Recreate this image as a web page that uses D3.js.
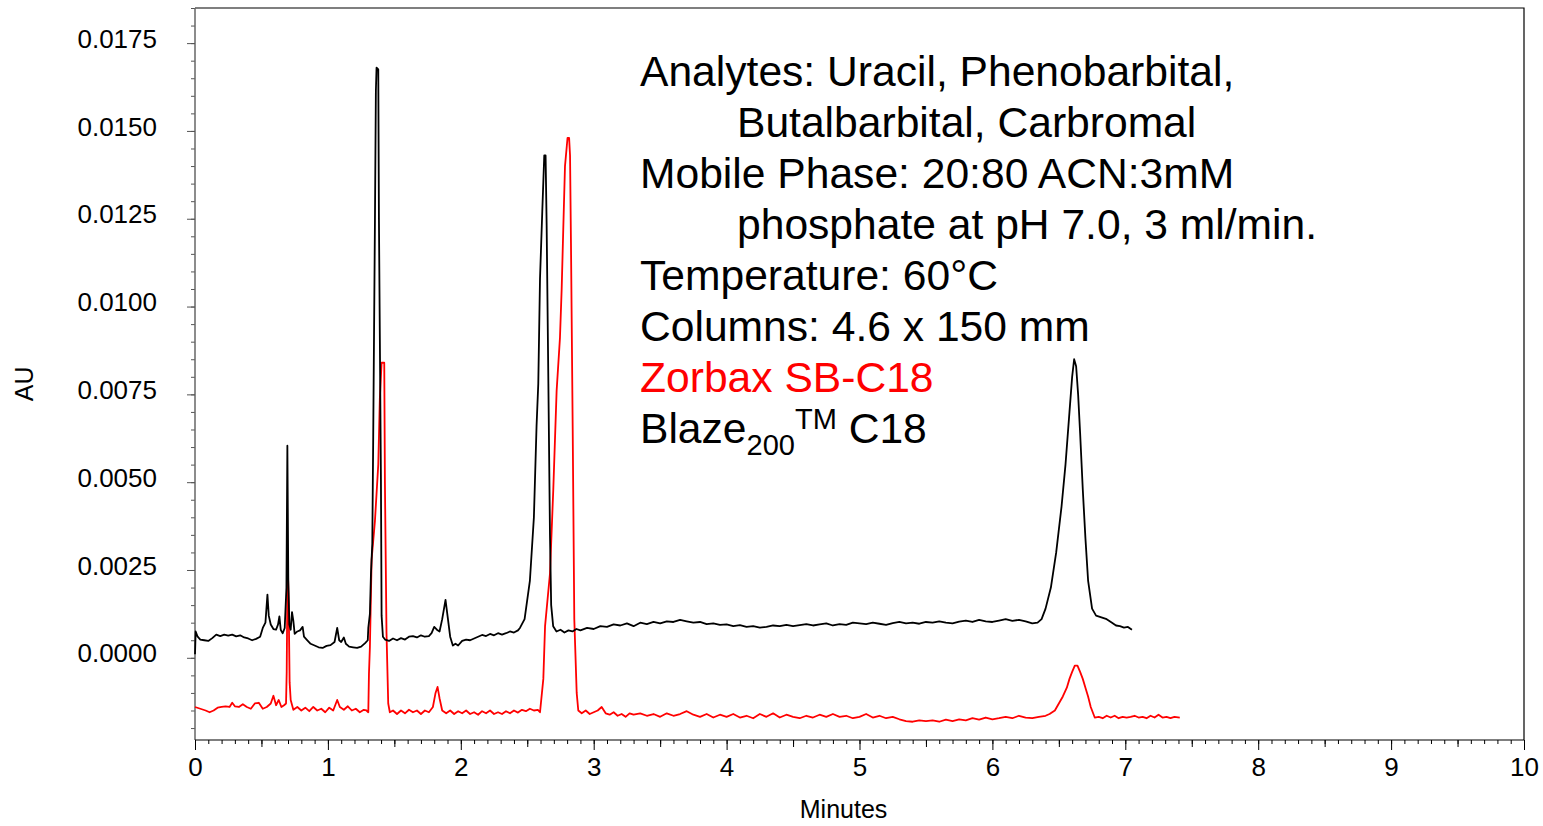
<!DOCTYPE html>
<html>
<head>
<meta charset="utf-8">
<script src="https://cdn.jsdelivr.net/npm/d3@7"></script>
<style>
  body { margin: 0; background: #fff; }
  svg { display: block; font-family: "Liberation Sans", Arial, sans-serif; }
</style>
</head>
<body>
<svg id="chart" width="1543" height="826"></svg>
<script>
// Blaze200 C18 trace (black): [minutes, AU]
const blaze = [
  [0.000, 0.00010], [0.005, 0.00075], [0.02, 0.00060], [0.04, 0.00052], [0.07, 0.00050],
  [0.10, 0.00048], [0.13, 0.00056], [0.16, 0.00066], [0.19, 0.00062], [0.22, 0.00066],
  [0.25, 0.00063], [0.28, 0.00066], [0.31, 0.00061], [0.34, 0.00064], [0.37, 0.00058],
  [0.40, 0.00055], [0.43, 0.00050], [0.46, 0.00054], [0.49, 0.00060], [0.51, 0.00085],
  [0.53, 0.00100], [0.545, 0.00180], [0.555, 0.00120], [0.57, 0.00095], [0.59, 0.00082],
  [0.61, 0.00080], [0.625, 0.00095], [0.635, 0.00118], [0.645, 0.00080], [0.66, 0.00070],
  [0.675, 0.00085], [0.688, 0.00200], [0.695, 0.00604], [0.702, 0.00220], [0.71, 0.00095],
  [0.72, 0.00080], [0.73, 0.00130], [0.74, 0.00105], [0.75, 0.00068], [0.77, 0.00075],
  [0.79, 0.00078], [0.81, 0.00088], [0.82, 0.00060], [0.84, 0.00052], [0.87, 0.00040],
  [0.90, 0.00035], [0.93, 0.00030], [0.96, 0.00028], [0.99, 0.00034], [1.02, 0.00036],
  [1.05, 0.00045], [1.07, 0.00085], [1.085, 0.00050], [1.10, 0.00045], [1.12, 0.00058],
  [1.135, 0.00040], [1.16, 0.00032], [1.19, 0.00030], [1.22, 0.00028], [1.25, 0.00032],
  [1.28, 0.00042], [1.30, 0.00050], [1.304, 0.00085], [1.316, 0.00125], [1.324, 0.00240],
  [1.334, 0.00325], [1.341, 0.00630], [1.354, 0.01245], [1.361, 0.01614], [1.366, 0.01680],
  [1.379, 0.01675], [1.384, 0.01250], [1.399, 0.00510], [1.404, 0.00120], [1.414, 0.00060],
  [1.43, 0.00052], [1.46, 0.00048], [1.49, 0.00055], [1.52, 0.00050], [1.55, 0.00056],
  [1.58, 0.00052], [1.61, 0.00060], [1.64, 0.00062], [1.67, 0.00058], [1.70, 0.00064],
  [1.73, 0.00060], [1.76, 0.00062], [1.78, 0.00070], [1.80, 0.00088], [1.82, 0.00080],
  [1.84, 0.00075], [1.86, 0.00110], [1.885, 0.00165], [1.90, 0.00120], [1.92, 0.00060],
  [1.94, 0.00035], [1.96, 0.00040], [1.98, 0.00035], [2.01, 0.00048], [2.04, 0.00052],
  [2.07, 0.00050], [2.10, 0.00055], [2.13, 0.00060], [2.16, 0.00065], [2.19, 0.00062],
  [2.22, 0.00068], [2.25, 0.00064], [2.28, 0.00070], [2.31, 0.00066], [2.34, 0.00070],
  [2.37, 0.00075], [2.40, 0.00072], [2.43, 0.00078], [2.445, 0.00085], [2.48, 0.00110],
  [2.52, 0.00220], [2.55, 0.00400], [2.57, 0.00660], [2.583, 0.00780], [2.596, 0.01080],
  [2.613, 0.01270], [2.628, 0.01430], [2.638, 0.01430], [2.646, 0.01230], [2.659, 0.00780],
  [2.671, 0.00350], [2.68, 0.00150], [2.695, 0.00090], [2.72, 0.00075], [2.75, 0.00080],
  [2.78, 0.00072], [2.81, 0.00078], [2.84, 0.00075], [2.87, 0.00082], [2.90, 0.00078],
  [2.95, 0.00085], [3.00, 0.00082], [3.05, 0.00090], [3.10, 0.00088], [3.15, 0.00095],
  [3.20, 0.00092], [3.25, 0.00098], [3.30, 0.00090], [3.35, 0.00100], [3.40, 0.00096],
  [3.45, 0.00102], [3.50, 0.00098], [3.55, 0.00104], [3.60, 0.00102], [3.65, 0.00108],
  [3.70, 0.00104], [3.75, 0.00100], [3.80, 0.00102], [3.85, 0.00096], [3.90, 0.00098],
  [3.95, 0.00094], [4.00, 0.00095], [4.05, 0.00090], [4.10, 0.00093], [4.15, 0.00088],
  [4.20, 0.00090], [4.25, 0.00086], [4.30, 0.00088], [4.35, 0.00092], [4.40, 0.00090],
  [4.45, 0.00094], [4.50, 0.00090], [4.55, 0.00093], [4.60, 0.00096], [4.65, 0.00092],
  [4.70, 0.00095], [4.75, 0.00098], [4.80, 0.00092], [4.85, 0.00096], [4.90, 0.00094],
  [4.95, 0.00100], [5.00, 0.00098], [5.05, 0.00096], [5.10, 0.00100], [5.15, 0.00097],
  [5.20, 0.00094], [5.25, 0.00099], [5.30, 0.00102], [5.35, 0.00098], [5.40, 0.00100],
  [5.45, 0.00097], [5.50, 0.00102], [5.55, 0.00100], [5.60, 0.00104], [5.65, 0.00100],
  [5.70, 0.00098], [5.75, 0.00103], [5.80, 0.00106], [5.85, 0.00102], [5.90, 0.00108],
  [5.95, 0.00104], [6.00, 0.00102], [6.05, 0.00106], [6.10, 0.00110], [6.15, 0.00105],
  [6.20, 0.00108], [6.25, 0.00104], [6.30, 0.00098], [6.34, 0.00100], [6.37, 0.00110],
  [6.40, 0.00140], [6.44, 0.00200], [6.48, 0.00300], [6.52, 0.00430], [6.55, 0.00550],
  [6.58, 0.00700], [6.60, 0.00800], [6.615, 0.00850], [6.63, 0.00830], [6.645, 0.00750],
  [6.66, 0.00640], [6.68, 0.00480], [6.70, 0.00340], [6.72, 0.00220], [6.75, 0.00140],
  [6.78, 0.00120], [6.82, 0.00115], [6.86, 0.00110], [6.90, 0.00100], [6.93, 0.00092],
  [6.96, 0.00090], [6.99, 0.00086], [7.02, 0.00088], [7.05, 0.00080]
];

// Zorbax SB-C18 trace (red): [minutes, AU]
const zorbax = [
  [0.00, -0.00140], [0.04, -0.00145], [0.08, -0.00150], [0.11, -0.00155], [0.14, -0.00150],
  [0.17, -0.00142], [0.20, -0.00140], [0.23, -0.00138], [0.26, -0.00140], [0.28, -0.00128],
  [0.30, -0.00138], [0.33, -0.00140], [0.36, -0.00132], [0.39, -0.00140], [0.42, -0.00145],
  [0.45, -0.00130], [0.48, -0.00128], [0.51, -0.00145], [0.54, -0.00140], [0.57, -0.00130],
  [0.59, -0.00108], [0.61, -0.00135], [0.63, -0.00120], [0.65, -0.00140], [0.67, -0.00135],
  [0.685, -0.00130], [0.690, -0.00040], [0.697, 0.00290], [0.705, 0.00150], [0.712, -0.00070],
  [0.72, -0.00120], [0.74, -0.00148], [0.77, -0.00140], [0.80, -0.00150], [0.83, -0.00142],
  [0.86, -0.00152], [0.89, -0.00140], [0.92, -0.00150], [0.95, -0.00145], [0.98, -0.00155],
  [1.01, -0.00142], [1.04, -0.00150], [1.07, -0.00120], [1.09, -0.00140], [1.12, -0.00148],
  [1.15, -0.00138], [1.18, -0.00150], [1.21, -0.00145], [1.24, -0.00155], [1.27, -0.00148],
  [1.29, -0.00150], [1.304, -0.00155], [1.309, -0.00045], [1.316, 0.00030], [1.329, 0.00280],
  [1.354, 0.00390], [1.379, 0.00550], [1.391, 0.00740], [1.404, 0.00840], [1.424, 0.00840],
  [1.429, 0.00500], [1.441, 0.00070], [1.454, -0.00130], [1.466, -0.00155], [1.49, -0.00150],
  [1.52, -0.00160], [1.55, -0.00150], [1.58, -0.00158], [1.61, -0.00148], [1.64, -0.00155],
  [1.67, -0.00150], [1.70, -0.00160], [1.73, -0.00150], [1.76, -0.00155], [1.79, -0.00140],
  [1.81, -0.00100], [1.825, -0.00083], [1.84, -0.00115], [1.86, -0.00150], [1.89, -0.00158],
  [1.92, -0.00150], [1.95, -0.00160], [1.98, -0.00152], [2.01, -0.00158], [2.04, -0.00150],
  [2.07, -0.00160], [2.10, -0.00155], [2.13, -0.00162], [2.16, -0.00152], [2.19, -0.00158],
  [2.22, -0.00150], [2.25, -0.00160], [2.28, -0.00155], [2.31, -0.00160], [2.34, -0.00152],
  [2.37, -0.00158], [2.40, -0.00150], [2.43, -0.00156], [2.46, -0.00148], [2.49, -0.00152],
  [2.52, -0.00145], [2.55, -0.00150], [2.58, -0.00148], [2.596, -0.00155], [2.621, -0.00060],
  [2.634, 0.00090], [2.671, 0.00240], [2.696, 0.00480], [2.721, 0.00760], [2.746, 0.00910],
  [2.759, 0.01050], [2.771, 0.01220], [2.784, 0.01400], [2.803, 0.01480], [2.815, 0.01480],
  [2.822, 0.01430], [2.829, 0.01180], [2.842, 0.00650], [2.854, 0.00110], [2.872, -0.00100],
  [2.884, -0.00150], [2.91, -0.00158], [2.94, -0.00150], [2.97, -0.00160], [3.00, -0.00155],
  [3.03, -0.00150], [3.06, -0.00140], [3.09, -0.00158], [3.12, -0.00162], [3.15, -0.00155],
  [3.18, -0.00165], [3.21, -0.00160], [3.24, -0.00168], [3.27, -0.00158], [3.30, -0.00162],
  [3.35, -0.00158], [3.40, -0.00165], [3.45, -0.00160], [3.50, -0.00168], [3.55, -0.00158],
  [3.60, -0.00165], [3.65, -0.00160], [3.70, -0.00152], [3.75, -0.00162], [3.80, -0.00168],
  [3.85, -0.00160], [3.90, -0.00170], [3.95, -0.00162], [4.00, -0.00168], [4.05, -0.00160],
  [4.10, -0.00170], [4.15, -0.00165], [4.20, -0.00172], [4.25, -0.00160], [4.30, -0.00168],
  [4.35, -0.00158], [4.40, -0.00170], [4.45, -0.00162], [4.50, -0.00168], [4.55, -0.00172],
  [4.60, -0.00165], [4.65, -0.00170], [4.70, -0.00162], [4.75, -0.00168], [4.80, -0.00160],
  [4.85, -0.00168], [4.90, -0.00165], [4.95, -0.00172], [5.00, -0.00168], [5.05, -0.00160],
  [5.10, -0.00170], [5.15, -0.00165], [5.20, -0.00172], [5.25, -0.00168], [5.30, -0.00175],
  [5.35, -0.00180], [5.40, -0.00182], [5.45, -0.00178], [5.50, -0.00180], [5.55, -0.00178],
  [5.60, -0.00182], [5.65, -0.00176], [5.70, -0.00180], [5.75, -0.00175], [5.80, -0.00178],
  [5.85, -0.00172], [5.90, -0.00176], [5.95, -0.00170], [6.00, -0.00175], [6.05, -0.00172],
  [6.10, -0.00168], [6.15, -0.00172], [6.20, -0.00165], [6.25, -0.00170], [6.30, -0.00172],
  [6.35, -0.00168], [6.40, -0.00165], [6.43, -0.00160], [6.47, -0.00150], [6.50, -0.00130],
  [6.53, -0.00110], [6.56, -0.00085], [6.58, -0.00060], [6.60, -0.00040], [6.62, -0.00022],
  [6.64, -0.00022], [6.66, -0.00040], [6.68, -0.00060], [6.70, -0.00085], [6.72, -0.00110],
  [6.74, -0.00140], [6.77, -0.00170], [6.80, -0.00168], [6.83, -0.00172], [6.86, -0.00165],
  [6.89, -0.00170], [6.92, -0.00165], [6.95, -0.00172], [6.98, -0.00168], [7.01, -0.00170],
  [7.04, -0.00168], [7.07, -0.00165], [7.10, -0.00170], [7.13, -0.00168], [7.16, -0.00172],
  [7.19, -0.00165], [7.22, -0.00170], [7.25, -0.00162], [7.28, -0.00170], [7.31, -0.00168],
  [7.34, -0.00172], [7.37, -0.00168], [7.41, -0.00170]
];

const yMajorTicks = [0, 0.0025, 0.005, 0.0075, 0.01, 0.0125, 0.015, 0.0175];
const xMajorTicks = [0, 1, 2, 3, 4, 5, 6, 7, 8, 9, 10];
const noteLines = [
  "Analytes: Uracil, Phenobarbital,",
  "Butalbarbital, Carbromal",
  "Mobile Phase: 20:80 ACN:3mM",
  "phosphate at pH 7.0, 3 ml/min.",
  "Temperature: 60\u00B0C",
  "Columns: 4.6 x 150 mm"
];
const zorbaxLabel = "Zorbax SB-C18";
const blazeLabel = ["Blaze", "200", "TM", " C18"];

const svg = d3.select("#chart");
const plotLeft = 195, plotRight = 1524, plotTop = 8, plotBottom = 740;

const x = d3.scaleLinear().domain([0, 10]).range([plotLeft, plotRight]);
const y = d3.scaleLinear().domain([-0.00234, 0.0185]).range([plotBottom, plotTop]);

// frame (top and right)
svg.append("path")
  .attr("d", `M${plotLeft},${plotTop}H${plotRight}V${plotBottom}`)
  .attr("fill", "none").attr("stroke", "#000").attr("stroke-width", 1.2);

// y axis
const yMinor = d3.range(-0.002, 0.01851, 0.0005).map(v => +v.toFixed(4));
svg.append("g").attr("transform", `translate(${plotLeft},0)`)
  .call(d3.axisLeft(y).tickValues(yMinor).tickSize(4).tickFormat(""))
  .call(g => g.select(".domain").remove())
  .call(g => g.selectAll("line").attr("stroke", "#555"));
svg.append("g").attr("transform", `translate(${plotLeft},0)`)
  .call(d3.axisLeft(y).tickValues(yMajorTicks).tickSize(8).tickPadding(30).tickFormat(d3.format(".4f")))
  .call(g => g.select(".domain").attr("stroke", "#666").attr("stroke-width", 1.5)
    .attr("d", `M0,${plotTop}V${plotBottom}`))
  .call(g => g.selectAll("line").attr("stroke", "#555"))
  .call(g => g.selectAll("text").attr("font-size", 26).attr("fill", "#000")
    .attr("font-family", "Liberation Sans, Arial, sans-serif").attr("dy", "0.16em"));

// x axis
const xMinor = d3.range(0, 10.001, 0.1).map(v => +v.toFixed(1));
const xHalf = d3.range(0.5, 10, 1);
svg.append("g").attr("transform", `translate(0,${plotBottom})`)
  .call(d3.axisBottom(x).tickValues(xMinor).tickSize(4).tickFormat(""))
  .call(g => g.select(".domain").remove());
svg.append("g").attr("transform", `translate(0,${plotBottom})`)
  .call(d3.axisBottom(x).tickValues(xHalf).tickSize(7).tickFormat(""))
  .call(g => g.select(".domain").remove());
svg.append("g").attr("transform", `translate(0,${plotBottom})`)
  .call(d3.axisBottom(x).tickValues(xMajorTicks).tickSize(10).tickPadding(8).tickFormat(d3.format("d")))
  .call(g => g.select(".domain").attr("stroke-width", 1.2).attr("d", `M${plotLeft},0H${plotRight}`))
  .call(g => g.selectAll("text").attr("font-size", 26).attr("fill", "#000")
    .attr("font-family", "Liberation Sans, Arial, sans-serif"));

// axis titles
svg.append("text").attr("x", x(4.88)).attr("y", 818).attr("text-anchor", "middle")
  .attr("font-size", 25).text("Minutes");
svg.append("text").attr("transform", `translate(33,${y(0.0078)}) rotate(-90)`)
  .attr("text-anchor", "middle").attr("font-size", 25).text("AU");

// traces
const line = d3.line().x(d => x(d[0])).y(d => y(d[1]));
svg.append("path").datum(zorbax).attr("d", line)
  .attr("fill", "none").attr("stroke", "#ff0000").attr("stroke-width", 1.8).attr("stroke-linejoin", "round");
svg.append("path").datum(blaze).attr("d", line)
  .attr("fill", "none").attr("stroke", "#000").attr("stroke-width", 1.8).attr("stroke-linejoin", "round");

// annotation
const noteX = 640, indentX = 737, firstBase = 86, pitch = 51;
const note = svg.append("g").attr("font-size", 42.6).attr("fill", "#000");
noteLines.forEach((t, i) => {
  note.append("text")
    .attr("x", i % 2 === 1 && i < 4 ? indentX : noteX)
    .attr("y", firstBase + i * pitch)
    .text(t);
});
note.append("text").attr("x", noteX).attr("y", firstBase + 6 * pitch)
  .attr("fill", "#ff0000").text(zorbaxLabel);
const bl = note.append("text").attr("x", noteX).attr("y", firstBase + 7 * pitch);
bl.append("tspan").text(blazeLabel[0]);
bl.append("tspan").attr("font-size", 29).attr("dy", 12).text(blazeLabel[1]);
bl.append("tspan").attr("font-size", 29).attr("dy", -26).text(blazeLabel[2]);
bl.append("tspan").attr("dy", 14).text(blazeLabel[3]);
</script>
</body>
</html>
